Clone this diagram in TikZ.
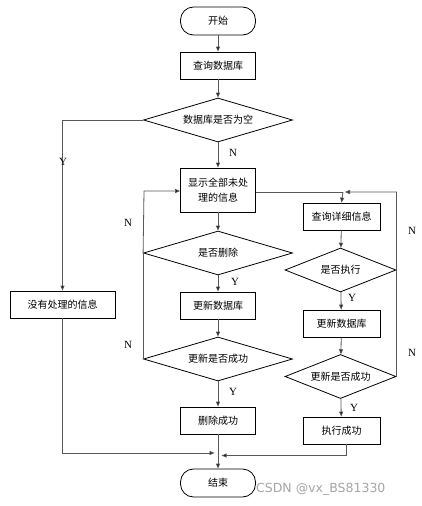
\documentclass[tikz,border=0pt]{standalone}
\usepackage{fontspec}
\newfontfamily\cjk{Noto Sans CJK SC}
\newfontfamily\lat{Liberation Serif}
\newfontfamily\wm{DejaVu Sans}
\usetikzlibrary{shapes.geometric,arrows.meta}
\begin{document}
\begin{tikzpicture}[x=1pt,y=-1pt,
  txt/.style={font=\cjk\fontsize{10}{12.5}\selectfont,inner sep=0pt,align=center},
  proc/.style={txt,draw=black,line width=0.8pt,minimum width=75pt,minimum height=27pt},
  term/.style={txt,draw=black,line width=0.8pt,rounded corners=13pt,minimum width=75pt,minimum height=28pt},
  dec/.style={txt,draw=black,line width=0.8pt,diamond,aspect=3.35,minimum width=149pt,minimum height=44pt},
  decs/.style={txt,draw=black,line width=0.8pt,diamond,aspect=2.5,minimum width=111pt,minimum height=44pt},
  conn/.style={draw=black!65,line width=0.8pt},
  arr/.style={conn,-{Triangle[length=5pt,width=4pt,fill=black]}},
  lab/.style={font=\lat\fontsize{11}{13}\selectfont,inner sep=0pt}]
\useasboundingbox (0,0) rectangle (421,506);
\fill[white] (0,0) rectangle (421,506);
\node[term] (start) at (218,21) {开始};
\node[proc] (q) at (218,65.5) {查询数据库};
\node[dec] (empty) at (218,120) {数据库是否为空};
\node[proc,minimum height=44pt] (show) at (218,190) {显示全部未处\\[3pt]理的信息};
\node[dec] (del) at (218,253) {是否删除};
\node[proc] (upd1) at (218,305.5) {更新数据库};
\node[dec] (ok1) at (218,359) {更新是否成功};
\node[proc] (delok) at (218,420.5) {删除成功};
\node[term] (end) at (218,483) {结束};
\node[proc,minimum width=105pt] (none) at (62.5,304.5) {没有处理的信息};
\node[proc,minimum width=77pt] (detail) at (341.5,216.5) {查询详细信息};
\node[decs] (exe) at (340.5,270) {是否执行};
\node[proc,minimum width=77pt] (upd2) at (341.5,323.5) {更新数据库};
\node[decs] (ok2) at (340.5,376.5) {更新是否成功};
\node[proc,minimum width=77pt] (exeok) at (341.5,430.5) {执行成功};
\coordinate (jL) at (144,191);
\coordinate (jR) at (343,192);
\coordinate (jB) at (218,454);
% main spine
\draw[arr] (start) -- (q);
\draw[arr] (q) -- (empty);
\draw[arr] (empty) -- (show);
\draw[arr] (show) -- (del);
\draw[arr] (del) -- (upd1);
\draw[arr] (upd1) -- (ok1);
\draw[arr] (ok1) -- (delok);
\draw[arr] (delok) -- (end);
% Y branch of empty
\draw[arr] (empty.west) -| (none.north);
% left loop
\draw[conn] (ok1.west) -- (del.west);
\draw[arr] (del.west) -- (jL) -- (show.west |- jL);
% right column
\draw[conn] (show.east |- jR) -- (jR);
\draw[arr] (jR) -- (detail.north);
\draw[arr] (detail) -- (exe);
\draw[arr] (exe) -- (upd2);
\draw[arr] (upd2) -- (ok2);
\draw[arr] (ok2) -- (exeok);
\draw[conn] (ok2.east) -- (exe.east);
\draw[arr] (exe.east) -- (396.5,192) -- (345,192);
% bottom merges
\draw[arr] (none.south) |- (214.5,453);
\draw[arr] (346,444) |- (221.5,455.5);
% labels
\node[lab] at (63,162) {Y};
\node[lab] at (233,153) {N};
\node[lab] at (128,223) {N};
\node[lab] at (128,345) {N};
\node[lab] at (235,282) {Y};
\node[lab] at (233,392) {Y};
\node[lab] at (352,298) {Y};
\node[lab] at (354,408) {Y};
\node[lab] at (412,231) {N};
\node[lab] at (412,353) {N};
\node[font=\wm\fontsize{12.5}{14}\selectfont,text=black!35,inner sep=0pt,anchor=west] (wm) at (256,489) {CSDN @vx\_BS81330};
\end{tikzpicture}
\end{document}
